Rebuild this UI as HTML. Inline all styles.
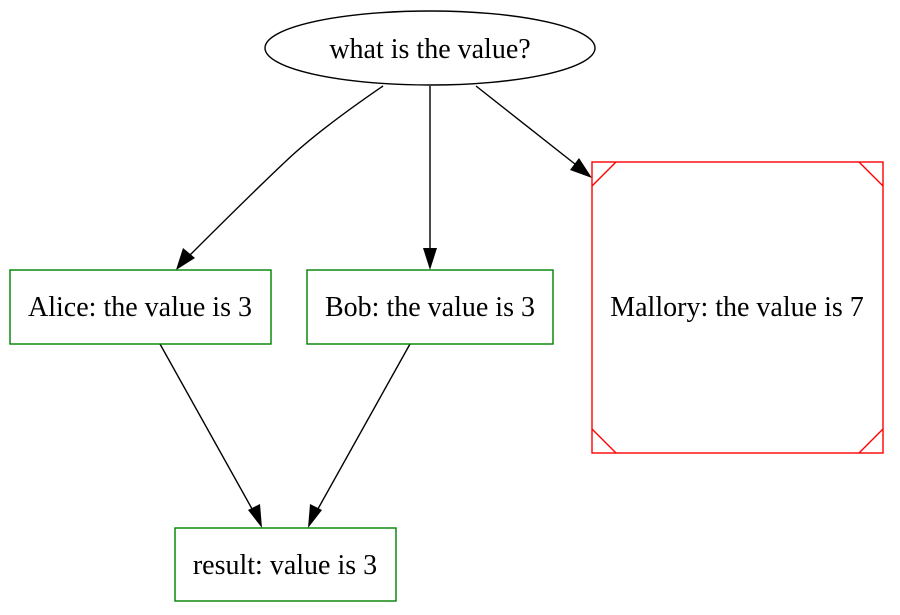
<!DOCTYPE html>
<html><head><style>body{margin:0;background:#fff}svg{display:block}</style></head>
<body>
<svg width="900" height="615" viewBox="0 0 900 615" xmlns="http://www.w3.org/2000/svg" font-family="Liberation Serif, serif" font-size="28">
<g fill="none" stroke="#000" stroke-width="1.4">
<ellipse cx="430" cy="48" rx="165" ry="37"/>
<path d="M383,86C345,112 310,138 285,162C250,195 215,230 185,260"/>
<path d="M430,86L430,250"/>
<path d="M476,86L580,168"/>
<path d="M160,344L256,516"/>
<path d="M410,344L314,516"/>
</g>
<g fill="#000">
<path d="M176,270L183,248L195,258z"/>
<path d="M430,270L423,248L437,248z"/>
<path d="M592,178L570,170L579,158z"/>
<path d="M262,528L248,510L260,504z"/>
<path d="M308,528L310,504L322,510z"/>
</g>
<g fill="none" stroke="#008000" stroke-width="1.4">
<rect x="10" y="270" width="261" height="74"/>
<rect x="307" y="270" width="246" height="74"/>
<rect x="175" y="528" width="221" height="73"/>
</g>
<g fill="none" stroke="#ff0000" stroke-width="1.4">
<rect x="592" y="162" width="291" height="291"/>
<path d="M592,186L616,162M859,162L883,186M592,429L616,453M859,453L883,429"/>
</g>
<g text-anchor="middle" fill="#000">
<text x="430" y="58">what is the value?</text>
<text x="140" y="316">Alice: the value is 3</text>
<text x="430" y="316">Bob: the value is 3</text>
<text x="737" y="316">Mallory: the value is 7</text>
<text x="285" y="574">result: value is 3</text>
</g>
</svg>
</body></html>
